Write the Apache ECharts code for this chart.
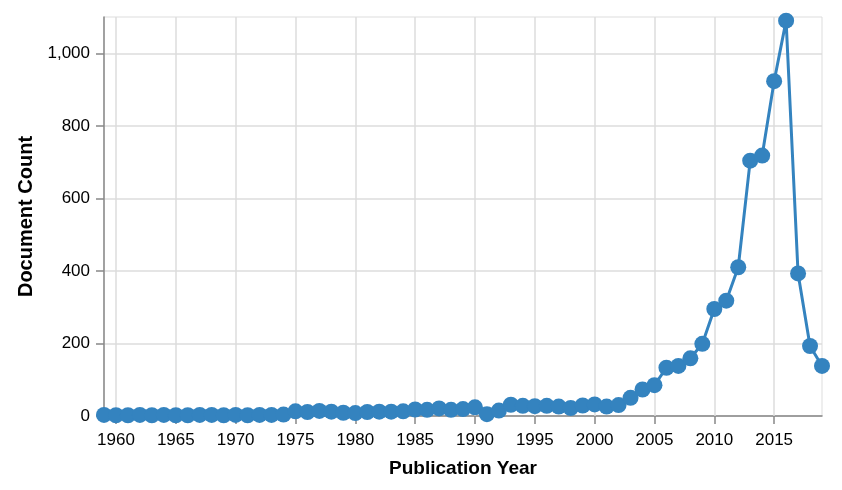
<!DOCTYPE html>
<html><head><meta charset="utf-8">
<script src="https://cdn.jsdelivr.net/npm/echarts@6/dist/echarts.min.js"></script>
<style>html,body{margin:0;padding:0;background:#fff}#c{width:842px;height:490px}</style>
</head><body><div id="c"></div>
<script>
const years = [];
for (let y = 1959; y <= 2019; y++) years.push(y);
const counts = [3,2,2,3,2,3,2,2,3,3,2,3,2,3,3,4,
  13,11,14,12,9,8,11,12,12,13,18,17,21,17,19,24,5,15,
  31,28,27,28,26,22,29,32,26,30,50,73,85,133,138,159,199,
  295,318,410,704,718,923,1090,393,193,138];
const xTicks = [1960,1965,1970,1975,1980,1985,1990,1995,2000,2005,2010,2015];
const yTicks = [0,200,400,600,800,1000];

const font = '"Liberation Sans", Arial, sans-serif';
const chart = echarts.init(document.getElementById('c'), null, {renderer:'canvas'});
chart.setOption({
  animation:false,
  grid:{left:104,right:20,top:17,bottom:74,show:true,borderColor:'#ddd',borderWidth:1,containLabel:false},
  xAxis:{type:'value',min:1959,max:2019,
    name:'Publication Year',nameLocation:'middle',nameGap:43,
    nameTextStyle:{fontFamily:font,fontSize:19,fontWeight:'bold',color:'#000'},
    axisLine:{show:true,lineStyle:{color:'#888',width:1.5}},
    axisTick:{show:true,length:8,lineStyle:{color:'#888',width:1.5},customValues:xTicks},
    axisLabel:{customValues:xTicks,fontFamily:font,fontSize:17,color:'#000',margin:16,formatter:v=>String(v)},
    splitLine:{show:false}},
  yAxis:{type:'value',min:0,max:1100,
    name:'Document Count',nameLocation:'middle',nameGap:68,nameRotate:90,
    nameTextStyle:{fontFamily:font,fontSize:20,fontWeight:'bold',color:'#000'},
    axisLine:{show:true,lineStyle:{color:'#888',width:1.5}},
    axisTick:{show:true,length:8,lineStyle:{color:'#888',width:1.5},customValues:yTicks},
    axisLabel:{customValues:yTicks,fontFamily:font,fontSize:17,color:'#000',margin:14,
      formatter:v=>v.toLocaleString('en-US')},
    splitLine:{show:true,lineStyle:{color:'#ddd',width:1.5}},
    interval:100},
  series:[{type:'line',data:years.map((y,i)=>[y,counts[i]]),
    lineStyle:{color:'#3483bf',width:3},
    itemStyle:{color:'#3483bf',opacity:1},
    symbol:'circle',symbolSize:16,showAllSymbol:true,z:5,
    markLine:{silent:true,symbol:'none',label:{show:false},
      lineStyle:{color:'#ddd',width:1.5,type:'solid'},z:1,
      data:xTicks.map(v=>({xAxis:v}))}
  }]
});
</script></body></html>
